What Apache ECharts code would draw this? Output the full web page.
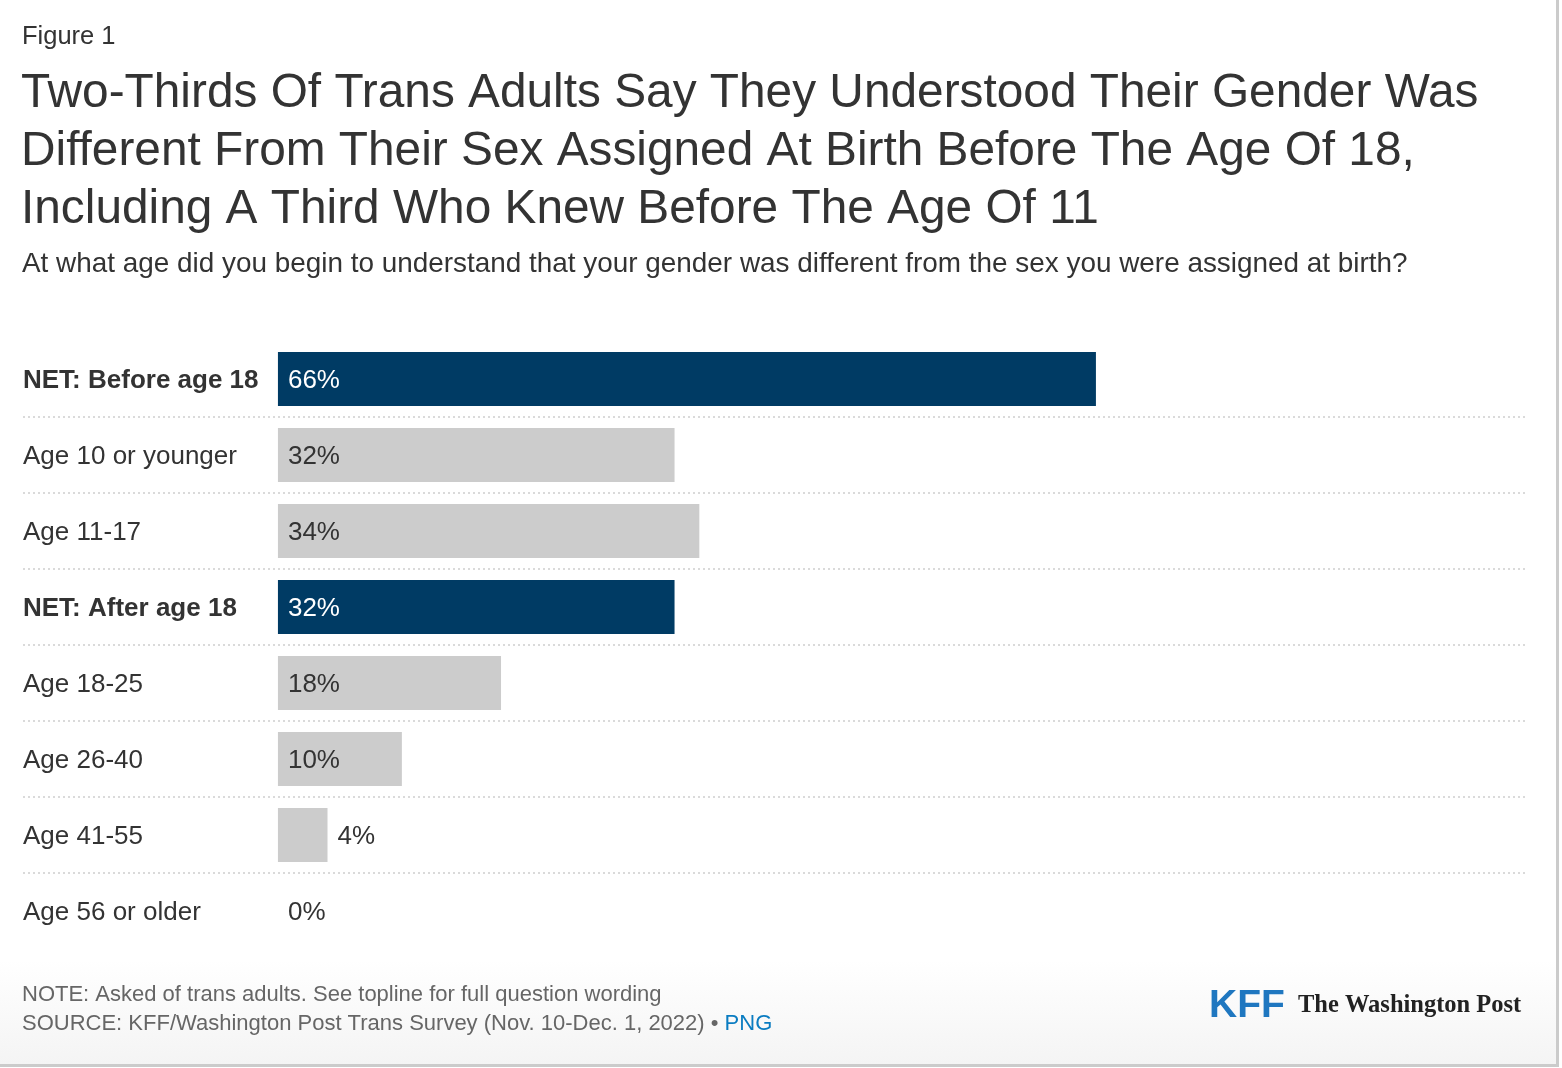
<!DOCTYPE html>
<html>
<head>
<meta charset="utf-8">
<script src="https://cdn.jsdelivr.net/npm/echarts@6/dist/echarts.min.js"></script>
<style>
  html, body { margin: 0; padding: 0; background: #ffffff; }
  #wrap {
    position: absolute; left: 0; top: 0;
    width: 1556px; height: 1064px;
    border-right: 3px solid #cbcbcb; border-bottom: 3px solid #cbcbcb;
    background: linear-gradient(to bottom, #ffffff 0px, #ffffff 960px, #f4f4f4 1064px);
  }
  #chart { width: 1556px; height: 1064px; }
</style>
</head>
<body>
<div id="wrap"><div id="chart"></div></div>
<script>
const categories = [
  "NET: Before age 18",
  "Age 10 or younger",
  "Age 11-17",
  "NET: After age 18",
  "Age 18-25",
  "Age 26-40",
  "Age 41-55",
  "Age 56 or older"
];
const values = [66, 32, 34, 32, 18, 10, 4, 0];
const isNet = [true, false, false, true, false, false, false, false];

const NAVY = "#003b64";
const GRAY = "#cccccc";
const TEXT = "#333333";
const FONT = "'Liberation Sans', Arial, Helvetica, sans-serif";

const seriesData = values.map((v, i) => ({
  value: v,
  itemStyle: { color: isNet[i] ? NAVY : GRAY },
  label: v >= 8
    ? { position: "insideLeft", distance: 10, color: isNet[i] ? "#ffffff" : TEXT }
    : { position: "right", distance: 10, color: TEXT }
}));

const chart = echarts.init(document.getElementById("chart"), null, { renderer: "canvas" });
chart.setOption({
  backgroundColor: "transparent",
  animation: false,
  title: [
    {
      text: "Figure 1",
      left: 22, top: 22, padding: 0,
      textStyle: { fontFamily: FONT, fontSize: 25.5, fontWeight: "normal", color: TEXT, lineHeight: 30 }
    },
    {
      text: "Two-Thirds Of Trans Adults Say They Understood Their Gender Was\nDifferent From Their Sex Assigned At Birth Before The Age Of 18,\nIncluding A Third Who Knew Before The Age Of 11",
      left: 21, top: 65, padding: 0,
      textStyle: { fontFamily: FONT, fontSize: 47.8, fontWeight: "normal", color: TEXT, lineHeight: 58 }
    },
    {
      text: "At what age did you begin to understand that your gender was different from the sex you were assigned at birth?",
      left: 22, top: 249, padding: 0,
      textStyle: { fontFamily: FONT, fontSize: 27.9, fontWeight: "normal", color: TEXT, lineHeight: 30 }
    },
    {
      text: "{n|NOTE: Asked of trans adults. See topline for full question wording}\n{n|SOURCE: KFF/Washington Post Trans Survey (Nov. 10-Dec. 1, 2022) • }{p|PNG}",
      left: 22, top: 980, padding: 0,
      textStyle: {
        fontFamily: FONT, fontSize: 22, fontWeight: "normal", color: "#666666", lineHeight: 29,
        rich: {
          n: { fontFamily: FONT, fontSize: 22, fontWeight: "normal", color: "#666666", lineHeight: 29 },
          p: { fontFamily: FONT, fontSize: 22, fontWeight: "normal", color: "#0a7cc1", lineHeight: 29 }
        }
      }
    },
    {
      text: "KFF",
      left: 1209, top: 985, padding: 0,
      textStyle: { fontFamily: FONT, fontSize: 39, fontWeight: "bold", color: "#1f77c0", lineHeight: 42 }
    },
    {
      text: "The Washington Post",
      left: 1298, top: 992, padding: 0,
      textStyle: { fontFamily: "'Liberation Serif', 'DejaVu Serif', serif", fontSize: 24.5, fontWeight: "bold", color: "#222222", lineHeight: 28 }
    }
  ],
  grid: { left: 23, right: 31, top: 341, height: 608, containLabel: false },
  xAxis: {
    type: "value",
    min: -20.57,
    max: 100.62,
    show: false
  },
  yAxis: {
    type: "category",
    data: categories,
    inverse: true,
    axisLine: { show: false },
    axisTick: { show: false },
    splitLine: {
      show: true,
      showMinLine: false,
      showMaxLine: false,
      lineStyle: { color: "#dadada", width: 2, type: [2, 3] }
    },
    axisLabel: {
      inside: true,
      margin: 0,
      fontFamily: FONT,
      fontSize: 26,
      color: TEXT,
      formatter: function (val, idx) {
        return isNet[idx] ? "{b|" + val + "}" : "{r|" + val + "}";
      },
      rich: {
        b: { fontFamily: FONT, fontSize: 26, fontWeight: "bold", color: TEXT, padding: [4, 0, 0, 0] },
        r: { fontFamily: FONT, fontSize: 26, color: TEXT, padding: [4, 0, 0, 0] }
      }
    }
  },
  series: [{
    type: "bar",
    data: seriesData,
    barWidth: 54,
    label: {
      show: true,
      fontFamily: FONT,
      fontSize: 26,
      offset: [0, 2],
      formatter: "{c}%"
    }
  }]
});
</script>
</body>
</html>
